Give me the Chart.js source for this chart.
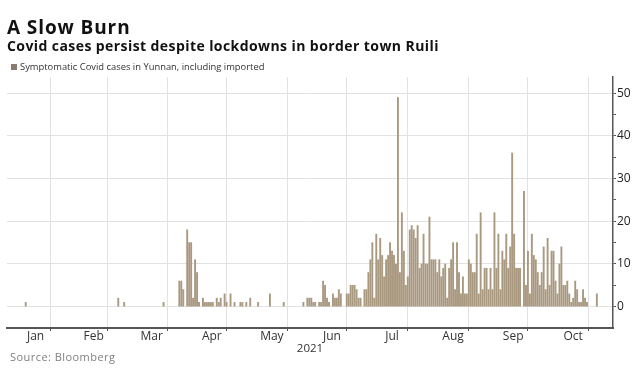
<!DOCTYPE html>
<html>
<head>
<meta charset="utf-8">
<script src="https://cdn.jsdelivr.net/npm/chart.js@4.4.1/dist/chart.umd.min.js"></script>
<style>
  html, body { margin: 0; padding: 0; background: #ffffff; }
  #wrap { position: relative; width: 635px; height: 382px; overflow: hidden; background: #fff; }
  #c { position: absolute; left: 0; top: 0; }
  .t { position: absolute; white-space: nowrap; font-family: "Open Sans", "Noto Sans", sans-serif; z-index: 2; }
  #title { left: 7px; top: 15px; font-size: 19px; line-height: 24px; font-weight: 700; color: #111; letter-spacing: 0.9px; }
  #subtitle { left: 7px; top: 37px; font-size: 14px; line-height: 18px; font-weight: 700; color: #111; letter-spacing: 0.42px; }
  #legend { left: 11px; top: 61px; font-size: 9.4px; line-height: 12px; color: #333; }
  #legend i { display: inline-block; width: 6px; height: 6px; background: #8a7c6c; margin-right: 3px; vertical-align: 0px; }
  #source { left: 10px; top: 350px; font-size: 11px; line-height: 13px; color: #808080; letter-spacing: 0.45px; }
</style>
</head>
<body>
<div id="wrap">
  <canvas id="c" width="635" height="382"></canvas>
  <div class="t" id="title">A Slow Burn</div>
  <div class="t" id="subtitle">Covid cases persist despite lockdowns in border town Ruili</div>
  <div class="t" id="legend"><i></i>Symptomatic Covid cases in Yunnan, including imported</div>
  <div class="t" id="source">Source: Bloomberg</div>
</div>
<script>
// ---- data: daily symptomatic cases, 2021 ----
const seriesLabel = 'Symptomatic Covid cases in Yunnan, including imported';
const monthNames = ['Jan','Feb','Mar','Apr','May','Jun','Jul','Aug','Sep','Oct'];
const monthDays  = [31, 28, 31, 30, 31, 30, 31, 31, 30, 31];
const jan = [0,0,0,0,0,0,0,0,0,0,1,0,0,0,0,0,0,0,0,0,0,0,0,0,0,0,0,0,0,0,0];
const feb = [0,0,0,0,0,0,0,0,0,0,0,0,0,0,0,0,0,0,0,0,0,0,0,0,0,0,2,0];
const mar = [0,1,0,0,0,0,0,0,0,0,0,0,0,0,0,0,0,0,0,0,0,1,0,0,0,0,0,0,0,6,6];
const apr = [4,0,18,15,15,2,11,8,1,0,2,1,1,1,1,1,0,2,1,2,0,3,1,0,3,0,1,0,0,1];
const may = [1,0,1,0,2,0,0,0,1,0,0,0,0,0,3,0,0,0,0,0,0,1,0,0,0,0,0,0,0,0,0];
const jun = [1,0,2,2,2,1,1,0,1,1,6,5,2,1,0,3,2,2,4,3,0,0,3,3,5,5,5,4,2,2];
const jul = [0,4,4,8,11,15,2,17,11,16,12,7,11,12,15,13,12,10,49,8,22,13,5,7,18,19,18,16,19,9,10];
const aug = [17,10,10,21,11,11,11,8,11,7,9,10,2,9,11,15,4,15,8,3,7,3,3,11,10,8,8,17,3,22,4];
const sep = [9,9,4,9,4,22,9,17,4,13,11,17,9,14,36,17,9,9,9,0,27,5,13,3,17,12,11,8,5,8];
const oct = [14,4,16,5,13,13,6,3,10,14,5,5,6,3,1,2,6,4,1,1,4,2,1,0,0,0,0,3,0,0,0];
const yTickValues = [0, 5, 10, 15, 20, 25, 30, 35, 40, 45, 50];
const axisYear = '2021';

// ---- build chart structures ----
const months = [jan, feb, mar, apr, may, jun, jul, aug, sep, oct];
const monthStart = [];
let acc = 0;
for (let i = 0; i < monthDays.length; i++) { monthStart.push(acc); acc += monthDays[i]; }
const yearEnd = acc; // start of Nov 1

const points = [];
months.forEach((arr, m) => {
  arr.forEach((v, i) => { if (v > 0) points.push({ x: monthStart[m] + i + 0.5, y: v }); });
});

const X_MIN = 1, X_MAX = 308.7;
const boundaryVals = monthStart.slice(1).concat([yearEnd]).filter(v => v > X_MIN && v < X_MAX);
const midVals = monthStart.map((s, i) => s + monthDays[i] / 2);
const labelMap = {};
midVals.forEach((v, i) => { labelMap[v] = monthNames[i]; });
const xTicks = boundaryVals.concat(midVals).sort((a, b) => a - b);
const isBoundary = v => boundaryVals.indexOf(v) >= 0;

const FONT = '"Open Sans", "Noto Sans", sans-serif';
const BAR = '#aa9981';

new Chart(document.getElementById('c'), {
  type: 'bar',
  data: {
    datasets: [{
      label: seriesLabel,
      data: points,
      backgroundColor: BAR,
      borderWidth: 0,
      barThickness: 1.25
    }]
  },
  options: {
    responsive: false,
    animation: false,
    devicePixelRatio: 1,
    layout: { padding: { top: 77, left: 7, right: 0, bottom: 0 } },
    plugins: { legend: { display: false }, tooltip: { enabled: false }, title: { display: false } },
    scales: {
      x: {
        type: 'linear',
        min: X_MIN, max: X_MAX,
        offset: false,
        afterBuildTicks: s => { s.ticks = xTicks.map(v => ({ value: v })); },
        afterFit: s => { s.height = 54; },
        grid: {
          color: c => (c.tick && isBoundary(c.tick.value)) ? '#e2e2e2' : 'rgba(0,0,0,0)',
          tickColor: c => (c.tick && isBoundary(c.tick.value)) ? '#555' : 'rgba(0,0,0,0)',
          tickLength: 3,
          lineWidth: 1
        },
        border: { color: '#555', width: 2 },
        ticks: {
          autoSkip: false, maxRotation: 0, minRotation: 0,
          padding: -2,
          color: '#333',
          font: { family: FONT, size: 12 },
          callback: v => labelMap[v] || ''
        },
        title: {
          display: true, text: axisYear, color: '#333',
          font: { family: FONT, size: 11.5 },
          padding: { top: 0, bottom: 26 }
        }
      },
      y: {
        position: 'right',
        min: -5, max: 53.8,
        afterBuildTicks: s => { s.ticks = yTickValues.map(v => ({ value: v })); },
        afterFit: s => { s.width = 22; },
        grid: {
          color: c => (c.tick && c.tick.value % 10 === 0) ? '#e2e2e2' : 'rgba(0,0,0,0)',
          tickColor: '#555',
          tickLength: 3,
          lineWidth: 1
        },
        border: { color: '#555', width: 1.5 },
        ticks: {
          padding: 1,
          color: '#222',
          font: { family: FONT, size: 12 },
          callback: v => (v % 10 === 0 ? String(v) : '')
        }
      }
    }
  }
});
</script>
</body>
</html>
